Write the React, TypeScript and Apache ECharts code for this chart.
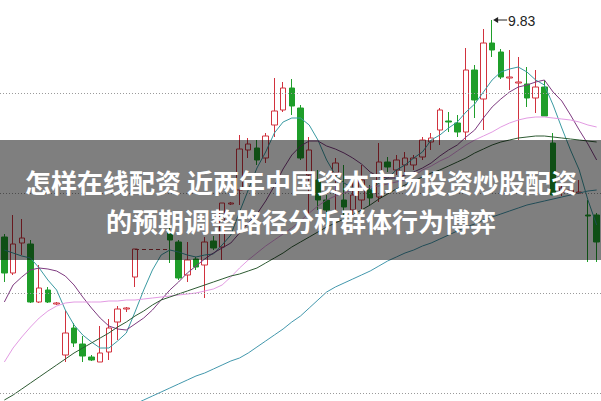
import React, { useEffect, useRef } from 'react';
import * as echarts from 'echarts';

// 69 trading days (labels hidden in the reference)
const days: string[] = Array.from({ length: 69 }, (_, i) => `D${i + 1}`);

// Candles: open / close / low / high (null = suspended day)
const opens: (number | null)[] = [7.66, 7.30, 7.60, 7.59, 7.01, 7.13, 6.99, 6.48, 6.75, 6.59,
  6.46, 6.41, 6.51, 6.81, 6.94, 7.26, null, null, null, 7.70,
  7.61, 7.28, 7.44, 7.38, 7.62, 7.56, 7.99, 8.13, 8.53, 8.55,
  8.45, 8.78, 8.93, 9.15, 8.95, 8.28, 8.23, 8.03, 8.30, 8.03,
  7.93, 8.03, 8.13, 8.06, 8.41, 8.33, 8.38, 8.38, 8.46, 8.61,
  8.73, 8.82, 8.80, 8.71, 9.33, 9.04, 9.60, 9.51, 9.25, 9.20,
  9.19, 9.05, 9.16, 8.60, 8.11, 8.10, 8.10, 7.88, 7.88];
const closes: (number | null)[] = [7.30, 7.59, 7.65, 7.01, 7.15, 7.01, 7.00, 6.70, 6.60, 6.47,
  6.43, 6.50, 6.75, 6.94, 6.95, 7.54, null, null, null, 7.63,
  7.25, 7.43, 7.36, 7.61, 7.55, 8.00, 8.00, 8.54, 8.59, 8.43,
  8.67, 8.92, 9.15, 8.97, 8.45, 8.53, 8.03, 7.93, 8.40, 7.96,
  8.08, 8.23, 8.05, 8.41, 8.36, 8.43, 8.45, 8.45, 8.63, 8.65,
  8.93, 8.81, 8.71, 9.33, 9.03, 9.60, 9.53, 9.26, 9.26, 9.21,
  9.05, 9.16, 8.87, 8.08, 8.15, 8.13, 8.11, 7.87, 7.61];
const lows: (number | null)[] = [7.21, 7.28, 7.48, 7.00, 7.00, 7.00, 6.98, 6.41, 6.56, 6.41,
  6.42, 6.41, 6.43, 6.63, 6.91, 7.16, null, null, null, 7.40,
  7.23, 7.21, 7.33, 7.05, 7.53, 7.43, 7.98, 7.98, 8.45, 8.38,
  8.40, 8.66, 8.91, 8.88, 8.43, 7.78, 7.93, 7.78, 7.91, 7.88,
  7.86, 7.93, 7.98, 8.01, 8.31, 8.28, 8.31, 8.33, 8.43, 8.53,
  8.58, 8.71, 8.66, 8.63, 8.85, 8.73, 9.46, 9.24, 9.13, 8.63,
  8.96, 8.90, 8.87, 8.08, 8.07, 8.08, 8.09, 7.41, 7.41];
const highs: (number | null)[] = [7.69, 7.88, 7.84, 7.63, 7.38, 7.16, 7.01, 6.93, 6.80, 6.67,
  6.48, 6.77, 6.84, 6.97, 6.96, 7.54, null, null, null, 7.76,
  7.63, 7.61, 7.46, 7.66, 7.67, 8.00, 8.01, 8.68, 8.65, 8.63,
  8.70, 9.25, 9.21, 9.24, 8.98, 8.66, 8.33, 8.08, 8.45, 8.38,
  8.23, 8.38, 8.18, 8.60, 8.46, 8.48, 8.51, 8.48, 8.66, 8.70,
  8.95, 8.91, 8.88, 9.55, 9.38, 9.74, 9.83, 9.54, 9.53, 9.46,
  9.36, 9.33, 9.23, 8.70, 8.21, 8.18, 8.23, 8.03, 7.90];

// Suspension (flat dashed) price and span
const suspendPrice = 7.54;
const suspendFrom = 15;
const suspendTo = 19;

// Moving averages
const ma5: (number | null)[] = [7.53, 7.50, 7.47, 7.45, 7.35, 7.23, 7.13, 6.93, 6.78, 6.68,
  6.61, 6.55, 6.55, 6.62, 6.70, 6.91, 7.13, 7.33, 7.48, 7.53,
  7.51, 7.48, 7.46, 7.48, 7.49, 7.58, 7.68, 7.91, 8.13, 8.35,
  8.51, 8.70, 8.81, 8.85, 8.85, 8.78, 8.63, 8.43, 8.28, 8.20,
  8.15, 8.14, 8.13, 8.20, 8.25, 8.33, 8.38, 8.45, 8.51, 8.63,
  8.68, 8.75, 8.81, 8.91, 8.99, 9.11, 9.23, 9.31, 9.34, 9.36,
  9.31, 9.23, 9.18, 8.98, 8.75, 8.53, 8.33, 8.03, 7.78];
const ma10: (number | null)[] = [7.01, 7.18, 7.26, 7.33, 7.35, 7.34, 7.32, 7.27, 7.18, 7.06,
  6.95, 6.85, 6.77, 6.74, 6.73, 6.79, 6.85, 6.93, 7.03, 7.13,
  7.21, 7.30, 7.37, 7.44, 7.50, 7.55, 7.60, 7.70, 7.80, 7.89,
  8.02, 8.17, 8.34, 8.48, 8.57, 8.62, 8.62, 8.57, 8.54, 8.50,
  8.45, 8.39, 8.31, 8.26, 8.25, 8.25, 8.28, 8.31, 8.35, 8.40,
  8.47, 8.53, 8.58, 8.66, 8.73, 8.85, 8.96, 9.04, 9.11, 9.16,
  9.18, 9.21, 9.23, 9.11, 9.02, 8.88, 8.73, 8.59, 8.43];
const ma20: (number | null)[] = [6.41, 6.55, 6.66, 6.76, 6.85, 6.92, 6.97, 7.00, 7.01, 7.01,
  7.01, 7.01, 7.02, 7.02, 7.03, 7.03, 7.04, 7.05, 7.06, 7.07,
  7.08, 7.09, 7.10, 7.12, 7.14, 7.18, 7.26, 7.35, 7.43, 7.50,
  7.57, 7.63, 7.69, 7.75, 7.82, 7.90, 7.97, 8.03, 8.07, 8.10,
  8.13, 8.15, 8.16, 8.17, 8.19, 8.21, 8.23, 8.27, 8.33, 8.37,
  8.42, 8.46, 8.52, 8.58, 8.63, 8.67, 8.71, 8.76, 8.80, 8.83,
  8.85, 8.86, 8.86, 8.85, 8.84, 8.83, 8.81, 8.78, 8.76];
const ma30: (number | null)[] = [6.03, 6.08, 6.14, 6.20, 6.26, 6.32, 6.38, 6.44, 6.50, 6.55,
  6.60, 6.65, 6.70, 6.76, 6.81, 6.87, 6.92, 6.98, 7.03, 7.06,
  7.09, 7.12, 7.15, 7.18, 7.21, 7.24, 7.27, 7.29, 7.32, 7.35,
  7.40, 7.45, 7.50, 7.56, 7.61, 7.66, 7.71, 7.76, 7.80, 7.84,
  7.88, 7.93, 7.98, 8.04, 8.09, 8.14, 8.18, 8.22, 8.26, 8.30,
  8.33, 8.37, 8.41, 8.45, 8.50, 8.54, 8.58, 8.61, 8.63, 8.65,
  8.66, 8.67, 8.67, 8.66, 8.65, 8.64, 8.63, 8.62, 8.61];
const maLong: (number | null)[] = [null, null, null, null, null, null, null, null, null, null,
  null, null, null, 5.91, 5.95, 5.99, 6.03, 6.07, 6.11, 6.15,
  6.19, 6.23, 6.27, 6.30, 6.34, 6.38, 6.42, 6.45, 6.50, 6.56,
  6.62, 6.68, 6.74, 6.81, 6.87, 6.95, 7.03, 7.11, 7.16, 7.20,
  7.24, 7.28, 7.32, 7.37, 7.42, 7.46, 7.50, 7.53, 7.57, 7.60,
  7.64, 7.68, 7.72, 7.76, 7.79, 7.83, 7.86, 7.89, 7.92, 7.95,
  7.98, 8.00, 8.02, 8.04, 8.06, 8.08, 8.10, 8.12, 8.13];

// Dotted horizontal reference levels
const gridLevels = [9.1, 8.1, 7.1, 6.1];

const titleLine1 = '怎样在线配资 近两年中国资本市场投资炒股配资';
const titleLine2 = '的预期调整路径分析群体行为博弈';

export default function App() {
  const ref = useRef<HTMLDivElement>(null);

  useEffect(() => {
    const chart = echarts.init(ref.current!, null, { renderer: 'svg' });
    const candleData = opens.map((o, i) =>
      o == null ? ['-', '-', '-', '-'] : [o, closes[i], lows[i], highs[i]]
    );
    const mkLine = (name: string, data: (number | null)[], color: string) => ({
      type: 'line',
      name,
      data,
      symbol: 'none',
      showSymbol: false,
      smooth: false,
      silent: true,
      clip: true,
      connectNulls: false,
      lineStyle: { width: 1, color },
      itemStyle: { color },
      z: 3,
    });

    chart.setOption({
      animation: false,
      grid: { left: 0, top: 0, width: 604, height: 401 },
      xAxis: { type: 'category', data: days, show: false, boundaryGap: true },
      yAxis: { type: 'value', min: 6.02, max: 10.03, show: false, splitLine: { show: false } },
      series: [
        {
          type: 'candlestick',
          data: candleData,
          barWidth: 6,
          silent: true,
          itemStyle: {
            color: '#ffffff',
            color0: '#1f9e2a',
            borderColor: '#d1323e',
            borderColor0: '#1f9e2a',
            borderWidth: 1,
          },
          markLine: {
            silent: true,
            symbol: ['none', 'none'],
            label: { show: false },
            animation: false,
            data: [
              ...gridLevels.map((v) => ({
                yAxis: v,
                lineStyle: { type: [1, 2], color: '#9a9a9a', width: 1 },
              })),
              [
                { coord: [days[suspendFrom], suspendPrice], lineStyle: { type: [4, 3], color: '#a8323a', width: 1 } },
                { coord: [days[suspendTo], suspendPrice] },
              ],
            ],
          },
          z: 2,
        },
        mkLine('MA5', ma5, '#3a9aa2'),
        mkLine('MA10', ma10, '#7e3a80'),
        mkLine('MA20', ma20, '#e39be3'),
        mkLine('MA30', ma30, '#2e5b33'),
        mkLine('MA120', maLong, '#4398ad'),
      ],
    });

    // label of highest price
    let hi = 0;
    highs.forEach((h, i) => {
      if (h != null && h > (highs[hi] as number)) hi = i;
    });
    const p = chart.convertToPixel({ gridIndex: 0 }, [days[hi], highs[hi] as number]) as number[];
    const px = p[0];
    const py = p[1];

    chart.setOption({
      graphic: [
        {
          type: 'polygon',
          z: 50,
          shape: { points: [[px + 1, py], [px + 6, py - 3], [px + 6, py + 3]] },
          style: { fill: '#222' },
          silent: true,
        },
        {
          type: 'line',
          z: 50,
          shape: { x1: px + 5, y1: py, x2: px + 15, y2: py },
          style: { stroke: '#222', lineWidth: 1 },
          silent: true,
        },
        {
          type: 'text',
          z: 50,
          x: px + 16,
          y: py + 1,
          style: {
            text: (highs[hi] as number).toFixed(2),
            fill: '#222',
            fontSize: 14,
            fontFamily: 'Liberation Sans, Arial, sans-serif',
            verticalAlign: 'middle',
            textVerticalAlign: 'middle',
          },
          silent: true,
        },
        {
          type: 'rect',
          z: 100,
          shape: { x: 0, y: 140, width: 601, height: 120 },
          style: { fill: 'rgba(0,0,0,0.5)' },
          silent: true,
        },
        {
          type: 'text',
          z: 101,
          x: 301,
          y: 181,
          style: {
            text: titleLine1,
            fill: '#ffffff',
            fontSize: 26,
            fontWeight: 'bold',
            fontFamily: '"Noto Sans CJK SC", sans-serif',
            align: 'center',
            textAlign: 'center',
            verticalAlign: 'middle',
            textVerticalAlign: 'middle',
          },
          silent: true,
        },
        {
          type: 'text',
          z: 101,
          x: 301,
          y: 220,
          style: {
            text: titleLine2,
            fill: '#ffffff',
            fontSize: 26,
            fontWeight: 'bold',
            fontFamily: '"Noto Sans CJK SC", sans-serif',
            align: 'center',
            textAlign: 'center',
            verticalAlign: 'middle',
            textVerticalAlign: 'middle',
          },
          silent: true,
        },
      ],
    });

    return () => chart.dispose();
  }, []);

  return (
    <div
      ref={ref}
      style={{ position: 'fixed', left: 0, top: 0, width: 601, height: 401, background: '#ffffff' }}
    />
  );
}
